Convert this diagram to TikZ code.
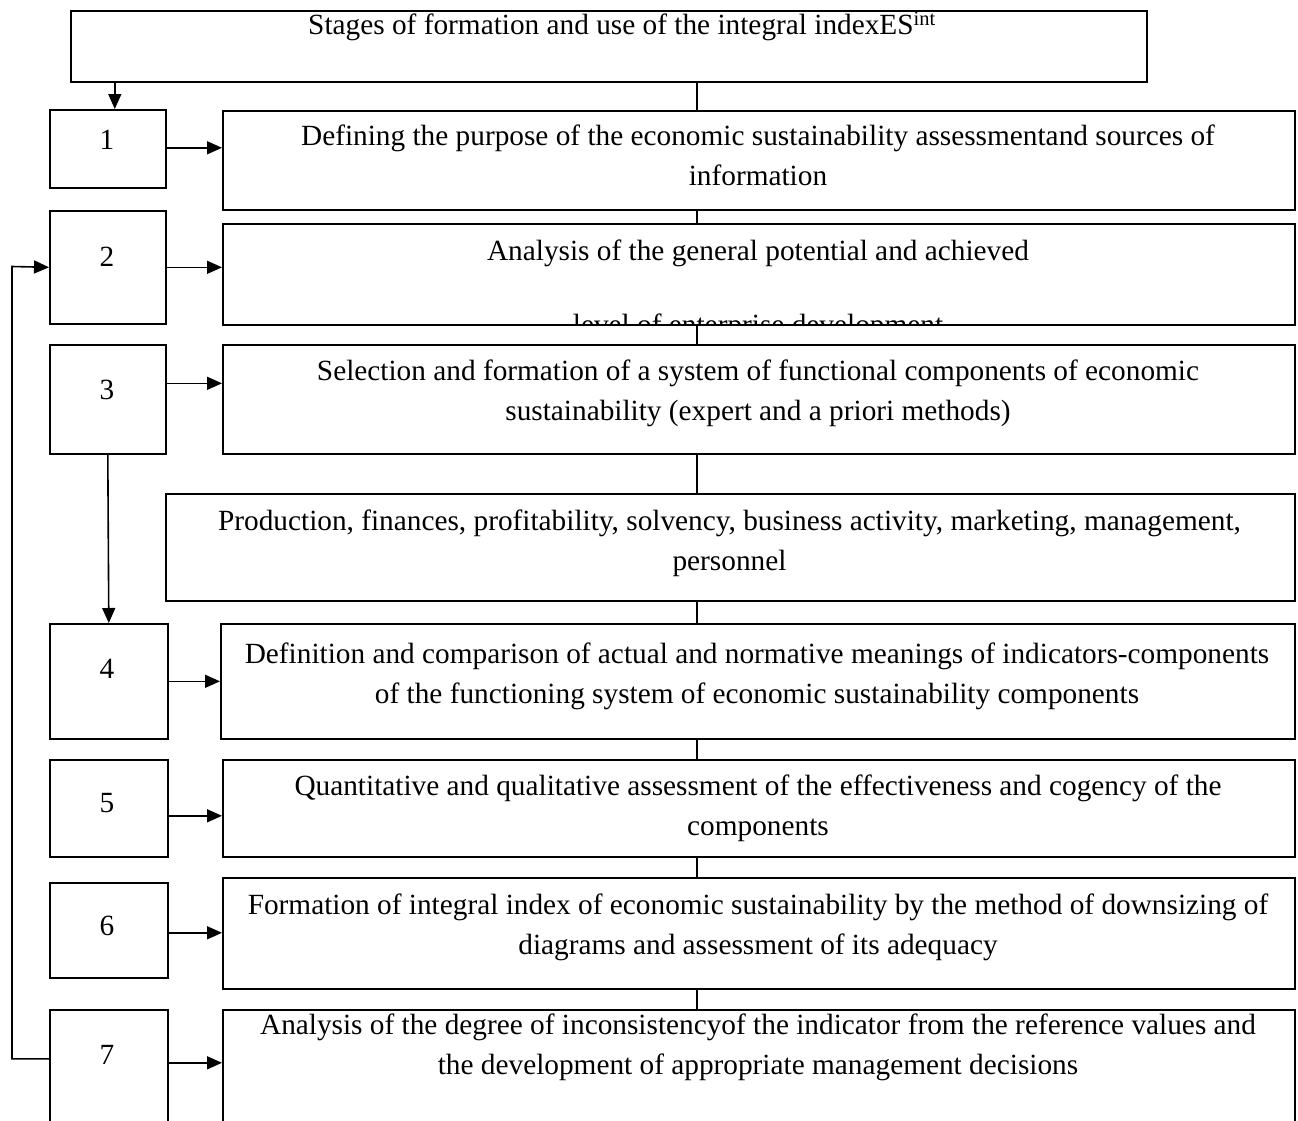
\documentclass[tikz,border=0pt]{standalone}
\usepackage{fontspec}
\setmainfont{Liberation Serif}
\usetikzlibrary{arrows.meta}
\tikzset{
  box/.style={draw, line width=1.6pt, inner sep=0pt, anchor=north west},
  txt/.style={font=\fontsize{29.3}{40}\selectfont, align=center, inner sep=0pt, anchor=north},
  num/.style={font=\fontsize{29.3}{40}\selectfont, inner sep=0pt},
  arr/.style={line width=1.6pt, -{Triangle[length=15pt,width=13pt]}},
  ln/.style={line width=1.2pt}
}
\newcommand\bx[5]{\node[box, minimum width={#4-#2}, minimum height={#5-#3}] (#1) at (#2,#3) {};}
\begin{document}
\begin{tikzpicture}[x=1pt,y=-1pt]
\useasboundingbox (0,0) rectangle (1298,1120);
\clip (0,0) rectangle (1298,1120);
\coordinate (spine) at (697,0);
% title
\bx{title}{70}{10}{1146}{81}
\node[txt] (ttl) at (622,6) {\strut Stages of formation and use of the integral indexES\textsuperscript{int}};
% left boxes
\bx{n1}{49}{109}{165}{187}
\bx{n2}{49}{210}{165}{323}
\bx{n3}{49}{344}{165}{453}
\bx{n4}{49}{623}{167}{738}
\bx{n5}{49}{759}{167}{856}
\bx{n6}{49}{882}{167}{977}
\bx{n7}{49}{1009}{167}{1130}
\node[num] (d1) at (107,140) {1};
\node[num] (d2) at (107,257) {2};
\node[num] (d3) at (107,390) {3};
\node[num] (d4) at (107,669) {4};
\node[num] (d5) at (107,803) {5};
\node[num] (d6) at (107,926) {6};
\node[num] (d7) at (107,1055) {7};
% right boxes
\bx{r1}{222}{110}{1294}{209}
\bx{r2}{222}{223}{1294}{324}
\bx{r3}{222}{344}{1294}{453}
\bx{pr}{165}{493}{1294}{600}
\bx{r4}{220}{623}{1294}{738}
\bx{r5}{222}{759}{1294}{856}
\bx{r6}{222}{877}{1294}{988}
\bx{r7}{222}{1009}{1294}{1130}
\node[txt] (t1) at (758,117) {\strut Defining the purpose of the economic sustainability assessmentand sources of\\\strut information};
\node[txt] (t2) at (758,232) {\strut Analysis of the general potential and achieved};
\begin{scope}
\clip ([xshift=1pt,yshift=-1pt]r2.north west) rectangle ([xshift=-1pt,yshift=1pt]r2.south east);
\node[txt, anchor=base] (t2b) at (758,334) {level of enterprise development};
\end{scope}
\node[txt] (t3) at (758,352) {\strut Selection and formation of a system of functional components of economic\\\strut sustainability (expert and a priori methods)};
\node[txt] (tp) at (729.5,502) {\strut Production, finances, profitability, solvency, business activity, marketing, management,\\\strut personnel};
\node[txt] (t4) at (757,635) {\strut Definition and comparison of actual and normative meanings of indicators-components\\\strut of the functioning system of economic sustainability components};
\node[txt] (t5) at (758,767) {\strut Quantitative and qualitative assessment of the effectiveness and cogency of the\\\strut components};
\node[txt] (t6) at (758,886) {\strut Formation of integral index of economic sustainability by the method of downsizing of\\\strut diagrams and assessment of its adequacy};
\node[txt] (t7) at (758,1006) {\strut Analysis of the degree of inconsistencyof the indicator from the reference values and\\\strut the development of appropriate management decisions};
% spine lines
\draw[ln] (title.south -| spine) -- (r1.north -| spine);
\draw[ln] (r1.south -| spine) -- (r2.north -| spine);
\draw[ln] (r2.south -| spine) -- (r3.north -| spine);
\draw[ln] (r3.south -| spine) -- (pr.north -| spine);
\draw[ln] (pr.south -| spine) -- (r4.north -| spine);
\draw[ln] (r4.south -| spine) -- (r5.north -| spine);
\draw[ln] (r5.south -| spine) -- (r6.north -| spine);
\draw[ln] (r6.south -| spine) -- (r7.north -| spine);
% arrows
\draw[arr] ([xshift=7pt]n1.north |- title.south) -- ([xshift=7pt]n1.north);
\draw[arr] ([yshift=1pt]n1.east) -- ([yshift=1pt]n1.east -| r1.west);
\draw[arr] (n2.east) -- (n2.east -| r2.west);
\draw[arr] ([yshift=16pt]n3.east) -- ([yshift=16pt]n3.east -| r3.west);
\draw[arr] (n3.south) -- (n4.north);
\draw[arr] (n4.east) -- (n4.east -| r4.west);
\draw[arr] ([yshift=-7.5pt]n5.east) -- ([yshift=-7.5pt]n5.east -| r5.west);
\draw[arr] ([yshift=-2.5pt]n6.east) -- ([yshift=-2.5pt]n6.east -| r6.west);
\draw[arr] ([yshift=7.5pt]n7.east) -- ([yshift=7.5pt]n7.east -| r7.west);
\coordinate (fb) at (12,266.5);
\draw[arr] ([yshift=11.5pt]n7.west) -| (fb) -- (n2.west);
\end{tikzpicture}
\end{document}
